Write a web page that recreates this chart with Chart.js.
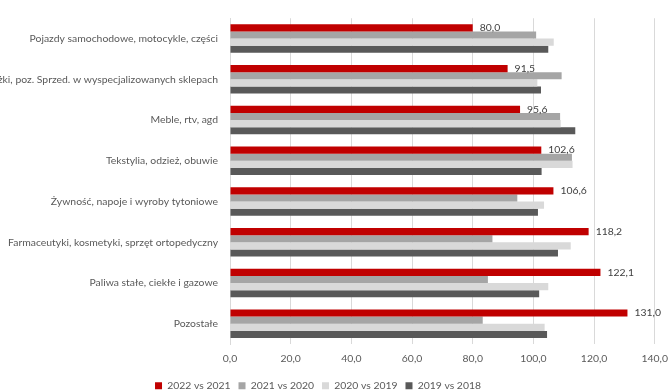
<!DOCTYPE html>
<html><head><meta charset="utf-8">
<script src="https://cdn.jsdelivr.net/npm/chart.js@4"></script>
<style>
html,body{margin:0;padding:0;overflow:hidden;background:#fff;width:669px;height:392px}
#wrap{position:absolute;left:-40px;top:0px;width:716px;height:401px}
</style></head>
<body><div id="wrap"><canvas id="c" width="716" height="401"></canvas></div>
<script>
const categories = [
  "Pojazdy samochodowe, motocykle, części",
  "Prasa, książki, poz. Sprzed. w wyspecjalizowanych sklepach",
  "Meble, rtv, agd",
  "Tekstylia, odzież, obuwie",
  "Żywność, napoje i wyroby tytoniowe",
  "Farmaceutyki, kosmetyki, sprzęt ortopedyczny",
  "Paliwa stałe, ciekłe i gazowe",
  "Pozostałe"
];
const seriesNames = ["2022 vs 2021", "2021 vs 2020", "2020 vs 2019", "2019 vs 2018"];
const s2022vs2021 = [80.0, 91.5, 95.6, 102.6, 106.6, 118.2, 122.1, 131.0];
const s2021vs2020 = [100.9, 109.3, 108.8, 112.7, 94.7, 86.5, 85.0, 83.3];
const s2020vs2019 = [106.7, 101.3, 109.0, 112.9, 103.5, 112.3, 104.9, 103.7];
const s2019vs2018 = [104.9, 102.5, 113.8, 102.7, 101.5, 108.1, 101.9, 104.5];
const xTicks = [0, 20, 40, 60, 80, 100, 120, 140];

const colors = ["#C00000", "#A5A5A5", "#D9D9D9", "#595959"];
const seriesData = [s2022vs2021, s2021vs2020, s2020vs2019, s2019vs2018];
const FONT = "Lato, 'Open Sans', sans-serif";
const FS = 10.4;
const fmt = v => v.toFixed(1).replace('.', ',');

const labelPlugin = {
  id: 'redLabels',
  afterDatasetsDraw(chart) {
    const ctx = chart.ctx;
    const meta = chart.getDatasetMeta(0);
    ctx.save();
    ctx.font = FS + "px " + FONT;
    ctx.fillStyle = "#404040";
    ctx.textBaseline = "middle";
    ctx.textAlign = "left";
    meta.data.forEach((bar, i) => {
      ctx.fillText(fmt(chart.data.datasets[0].data[i]), bar.x + 7, bar.y);
    });
    ctx.restore();
  }
};

new Chart(document.getElementById('c'), {
  type: 'bar',
  data: {
    labels: categories,
    datasets: seriesData.map((d, i) => ({
      label: seriesNames[i],
      data: d,
      backgroundColor: colors[i],
      borderWidth: 0,
      categoryPercentage: 0.7,
      barPercentage: 1.0
    }))
  },
  options: {
    indexAxis: 'y',
    responsive: false,
    animation: false,
    layout: { padding: { top: 17, right: 0, bottom: 0, left: 0 } },
    plugins: {
      legend: {
        position: 'bottom',
        labels: {
          boxWidth: 7, boxHeight: 7, padding: 8,
          color: "#595959",
          font: { family: FONT, size: FS }
        }
      },
      tooltip: { enabled: false }
    },
    scales: {
      x: {
        min: 0, max: 140,
        afterBuildTicks(scale) { scale.ticks = xTicks.map(v => ({ value: v })); },
        ticks: {
          callback: v => fmt(v),
          color: "#595959",
          font: { family: FONT, size: FS },
          padding: 8
        },
        grid: { color: "#D9D9D9", drawTicks: false },
        border: { display: false }
      },
      y: {
        afterFit(scale) { scale.width = 270; },
        ticks: {
          color: "#595959",
          font: { family: FONT, size: FS },
          padding: 12
        },
        grid: { display: false, drawTicks: false },
        border: { display: true, color: "#D9D9D9" }
      }
    }
  },
  plugins: [labelPlugin]
});
</script>
</body></html>
